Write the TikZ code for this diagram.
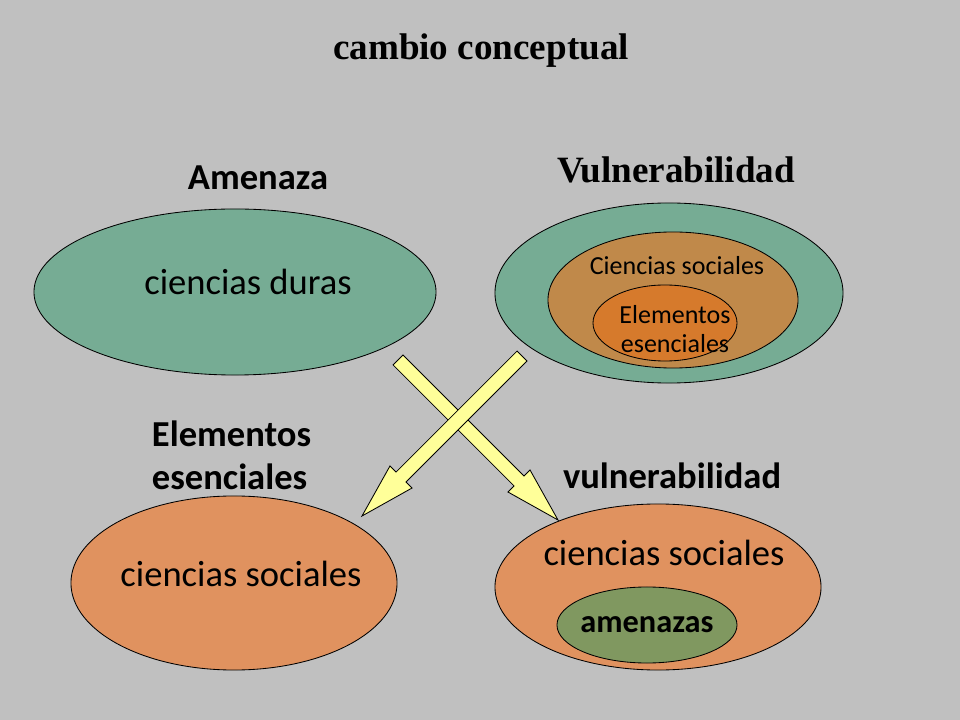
\documentclass[tikz,border=0pt]{standalone}
\usepackage{fontspec}
\setmainfont{Liberation Serif}
\newfontfamily\carlito{Carlito}
\usepackage{tikz}
\usetikzlibrary{shapes.geometric}
\usetikzlibrary{calc}
\definecolor{bggray}{RGB}{192,192,192}
\definecolor{greenE}{RGB}{118,172,148}
\definecolor{brownE}{RGB}{192,137,74}
\definecolor{orangeIn}{RGB}{214,122,44}
\definecolor{orangeE}{RGB}{224,146,95}
\definecolor{oliveE}{RGB}{128,152,96}
\definecolor{yellowA}{RGB}{255,255,153}
\tikzset{
  blob/.style={ellipse,draw=black,line width=0.6pt,inner sep=0pt},
  bigtxt/.style={font=\carlito\fontsize{26}{30}\selectfont},
  smalltxt/.style={font=\carlito\fontsize{18.5}{21}\selectfont},
  headtxt/.style={font=\carlito\bfseries\fontsize{26}{30.5}\selectfont},
  serifhead/.style={font=\bfseries\fontsize{26.4}{30}\selectfont},
  fatarrow/.style={fill=yellowA,draw=black,line width=0.6pt,line join=miter}
}

\begin{document}
\begin{tikzpicture}[x=0.025cm,y=-0.025cm]
\fill[bggray] (0,0) rectangle (960,720);
\useasboundingbox (0,0) rectangle (960,720);

\node[serifhead] (title) at (481,51) {cambio conceptual};

% amenaza
\node[headtxt] (amenaza) at (258,178) {Amenaza};
\node[blob,fill=greenE,minimum width=10.05cm,minimum height=4.15cm] (duras) at (235,292) {};
\node[bigtxt] (durasT) at (248,282) {ciencias duras};

% vulnerabilidad
\node[serifhead] (vulnT) at (676,170) {Vulnerabilidad};
\node[blob,fill=greenE,minimum width=8.7cm,minimum height=4.5cm] (vuln) at (669,293) {};
\node[blob,fill=brownE,minimum width=6.25cm,minimum height=3.4cm] (soc) at (673,300) {};
\node[blob,fill=orangeIn,minimum width=3.6cm,minimum height=1.9cm] (esen) at (665,323) {};
\node[smalltxt] (socT) at (677,266) {Ciencias sociales};
\node[smalltxt,align=center] (esenT) at (675,329) {Elementos\\esenciales};

% elementos esenciales
\node[headtxt,align=left,anchor=west] (elemT) at (147,455) {Elementos\\esenciales};
\node[blob,fill=orangeE,minimum width=8.15cm,minimum height=4.35cm] (socL) at (234,583) {};
\node[bigtxt] (socLT) at (241,574) {ciencias sociales};

% vulnerabilidad (abajo)
\node[headtxt] (vulnB) at (672,476) {vulnerabilidad};
\node[blob,fill=orangeE,minimum width=8.15cm,minimum height=4.15cm] (socR) at (658,587) {};
\node[bigtxt] (socRT) at (664,553) {ciencias sociales};
\node[blob,fill=oliveE,minimum width=4.5cm,minimum height=1.9cm] (amen) at (647,625) {};
\node[font=\carlito\bfseries\fontsize{23}{26}\selectfont] (amenT) at (647,625) {amenazas};

% flechas
\coordinate (t1) at (398,360); \coordinate (h1) at (558,520);
\coordinate (t2) at (522,356); \coordinate (h2) at (362,516);
\foreach \src/\dst in {t1/h1,t2/h2}{
  \coordinate (b) at ($(\dst)!1.38cm!(\src)$);
  \draw[fatarrow] ($(\src)!0.175cm!90:(\dst)$) -- ($(b)!0.175cm!-90:(\src)$) -- ($(b)!0.39cm!-90:(\src)$) -- (\dst)
    -- ($(b)!0.39cm!90:(\src)$) -- ($(b)!0.175cm!90:(\src)$) -- ($(\src)!0.175cm!-90:(\dst)$) -- cycle;
}
\end{tikzpicture}
\end{document}
